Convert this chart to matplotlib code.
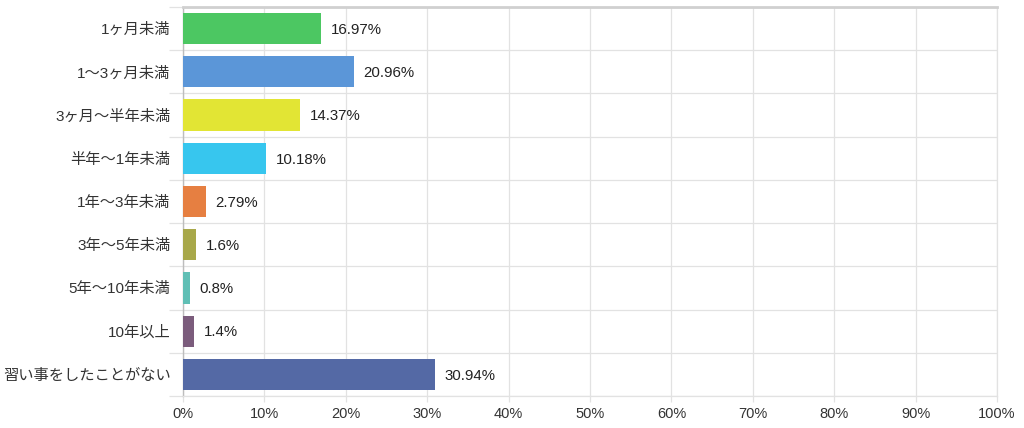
import matplotlib
matplotlib.use("Agg")
import matplotlib.pyplot as plt
from matplotlib.ticker import FixedLocator

plt.rcParams['font.family'] = ['Liberation Sans', 'Noto Sans CJK JP', 'DejaVu Sans']

categories = ["1ヶ月未満", "1〜3ヶ月未満", "3ヶ月〜半年未満", "半年〜1年未満", "1年〜3年未満",
              "3年〜5年未満", "5年〜10年未満", "10年以上", "習い事をしたことがない"]
values = [16.97, 20.96, 14.37, 10.18, 2.79, 1.6, 0.8, 1.4, 30.94]
value_labels = ["16.97%", "20.96%", "14.37%", "10.18%", "2.79%", "1.6%", "0.8%", "1.4%", "30.94%"]
colors = ["#4cc762", "#5b96d8", "#e2e534", "#37c6ee", "#e67f41",
          "#a8a84a", "#60bfb5", "#7b5c7c", "#5469a5"]
x_ticks = [0, 10, 20, 30, 40, 50, 60, 70, 80, 90, 100]

fig = plt.figure(figsize=(10.24, 4.28), dpi=100)
ax = fig.add_axes([183/1024, 32/428, (997-183)/1024, (396-7)/428])

n = len(categories)
ypos = list(range(n))
ax.barh(ypos, values, height=0.72, color=colors, zorder=3)
for y, v, lab in zip(ypos, values, value_labels):
    ax.text(v + 1.2, y + 0.03, lab, va='center', ha='left', fontsize=10.8, color='#222222', zorder=4)

ax.set_xlim(0, 100)
ax.set_ylim(n - 0.5, -0.5)
ax.set_yticks(ypos)
ax.set_yticklabels(categories, fontsize=11, color='#333333')
ax.yaxis.set_minor_locator(FixedLocator([i - 0.5 for i in range(n + 1)]))
ax.set_xticks(x_ticks)
ax.set_xticklabels([f"{t}%" for t in x_ticks], fontsize=10.5, color='#333333')

ax.grid(True, axis='x', which='major', color='#e2e2e2', linewidth=0.9, zorder=0)
ax.grid(True, axis='y', which='minor', color='#e2e2e2', linewidth=0.9, zorder=0)
ax.tick_params(axis='y', which='major', length=0, pad=9)
ax.tick_params(axis='y', which='minor', length=10, color='#e2e2e2', width=0.9)
ax.tick_params(axis='x', which='major', length=4, color='#e2e2e2', width=0.9, pad=4)

for side in ['right', 'bottom']:
    ax.spines[side].set_color('#e2e2e2')
    ax.spines[side].set_linewidth(0.9)
ax.spines['left'].set_color('#bdbdbd')
ax.spines['left'].set_linewidth(1.0)
ax.spines['top'].set_color('#d0d0d0')
ax.spines['top'].set_linewidth(2.0)

fig.savefig("out.png", dpi=100)
